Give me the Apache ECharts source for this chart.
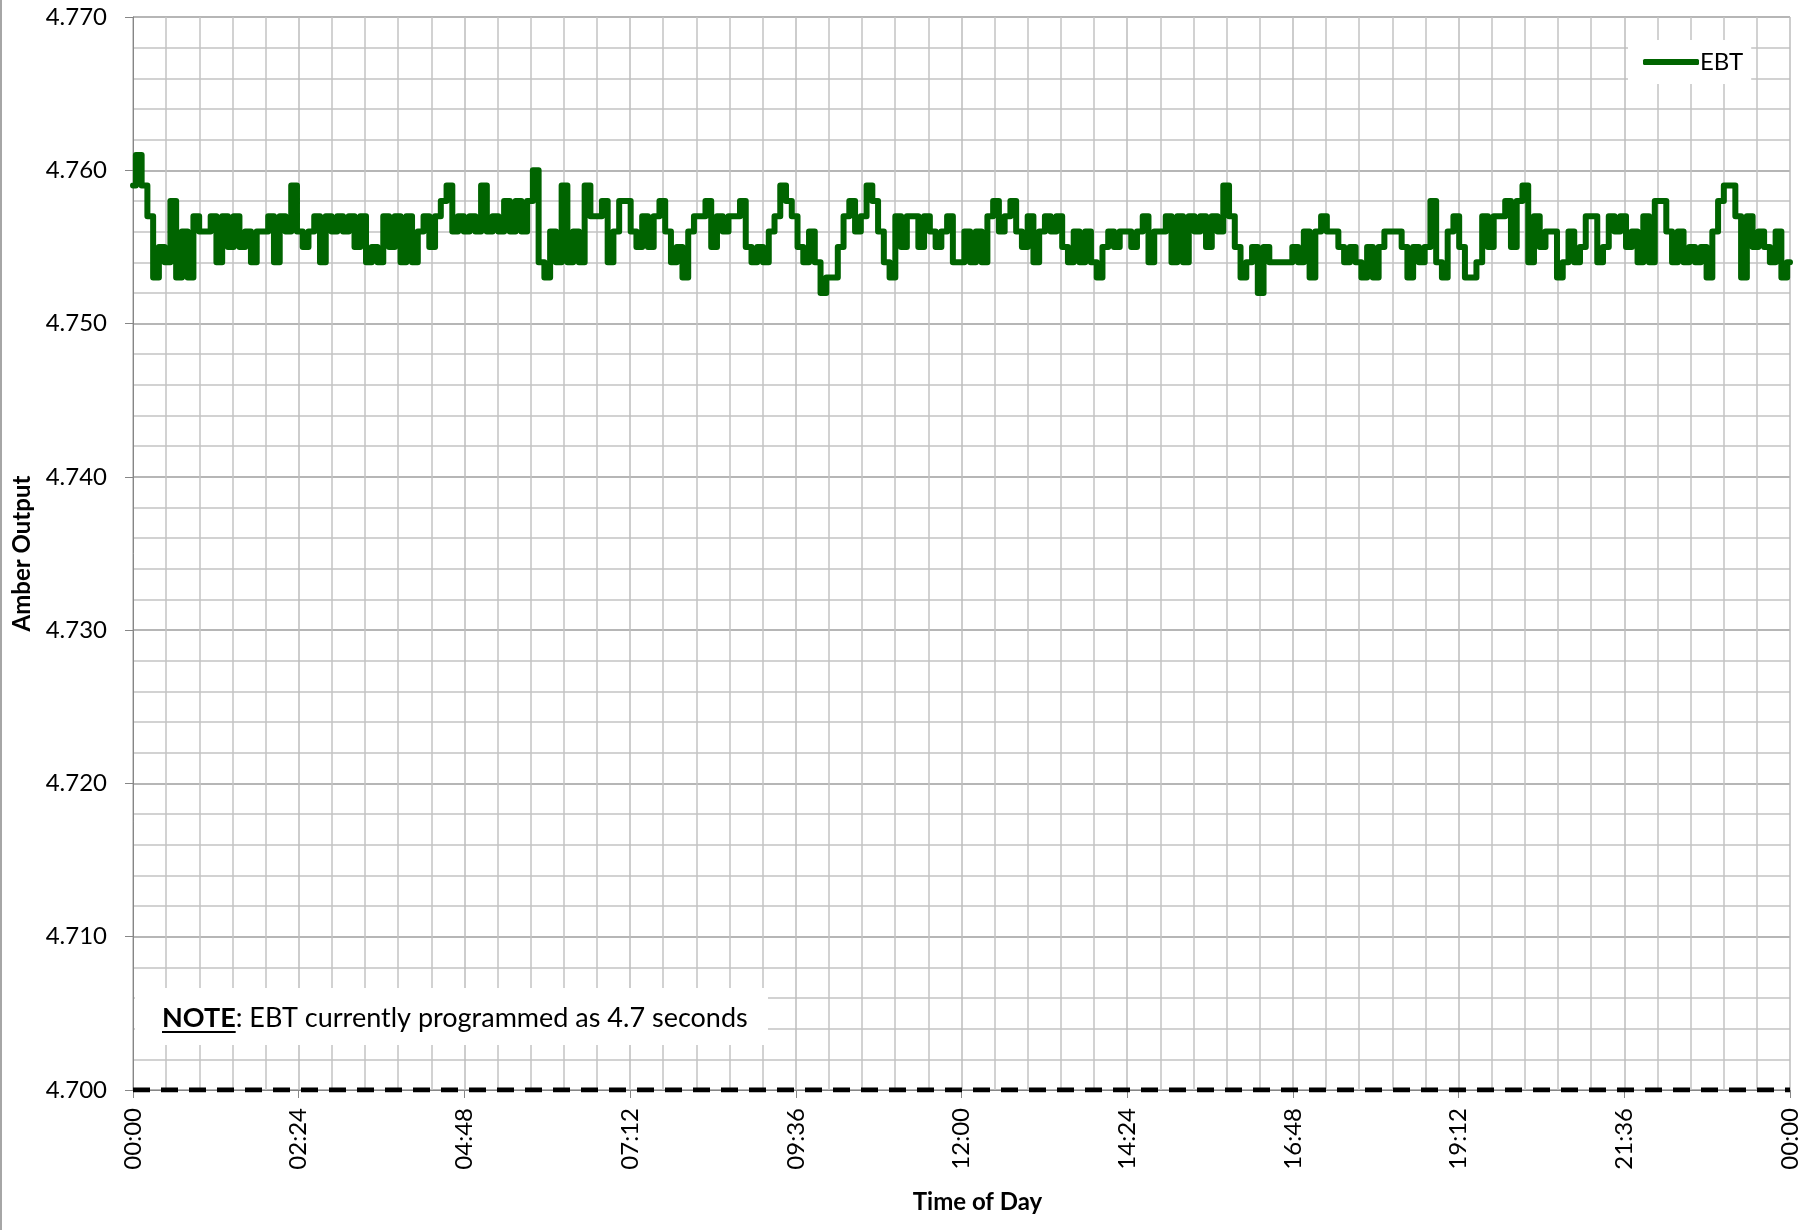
<!DOCTYPE html>
<html>
<head>
<meta charset="utf-8">
<title>EBT – Amber Output</title>
<script src="https://cdn.jsdelivr.net/npm/echarts@6/dist/echarts.min.js"></script>
<style>
  html, body { margin: 0; padding: 0; background: #ffffff; }
  #chart { width: 1820px; height: 1230px; }
</style>
</head>
<body>
<div id="chart"></div>
<script>
// Amber output log, one reading every 5 minutes from 00:00 to 00:00 the next day.
const SAMPLE_MINUTES = 5;
const ebtValues = [
  4.759,4.761,4.759,4.757,4.753,4.755,4.754,4.758,4.753,4.756,4.753,4.757, // 00h
  4.756,4.756,4.757,4.754,4.757,4.755,4.757,4.755,4.756,4.754,4.756,4.756, // 01h
  4.757,4.754,4.757,4.756,4.759,4.756,4.755,4.756,4.757,4.754,4.757,4.756, // 02h
  4.757,4.756,4.757,4.755,4.757,4.754,4.755,4.754,4.757,4.755,4.757,4.754, // 03h
  4.757,4.754,4.756,4.757,4.755,4.757,4.758,4.759,4.756,4.757,4.756,4.757, // 04h
  4.756,4.759,4.756,4.757,4.756,4.758,4.756,4.758,4.756,4.758,4.760,4.754, // 05h
  4.753,4.756,4.754,4.759,4.754,4.756,4.754,4.759,4.757,4.757,4.758,4.754, // 06h
  4.756,4.758,4.758,4.756,4.755,4.757,4.755,4.757,4.758,4.756,4.754,4.755, // 07h
  4.753,4.756,4.757,4.757,4.758,4.755,4.757,4.756,4.757,4.757,4.758,4.755, // 08h
  4.754,4.755,4.754,4.756,4.757,4.759,4.758,4.757,4.755,4.754,4.756,4.754, // 09h
  4.752,4.753,4.753,4.755,4.757,4.758,4.756,4.757,4.759,4.758,4.756,4.754, // 10h
  4.753,4.757,4.755,4.757,4.757,4.755,4.757,4.756,4.755,4.756,4.757,4.754, // 11h
  4.754,4.756,4.754,4.756,4.754,4.757,4.758,4.756,4.757,4.758,4.756,4.755, // 12h
  4.757,4.754,4.756,4.757,4.756,4.757,4.755,4.754,4.756,4.754,4.756,4.754, // 13h
  4.753,4.755,4.756,4.755,4.756,4.756,4.755,4.756,4.757,4.754,4.756,4.756, // 14h
  4.757,4.754,4.757,4.754,4.757,4.756,4.757,4.755,4.757,4.756,4.759,4.757, // 15h
  4.755,4.753,4.754,4.755,4.752,4.755,4.754,4.754,4.754,4.754,4.755,4.754, // 16h
  4.756,4.753,4.756,4.757,4.756,4.756,4.755,4.754,4.755,4.754,4.753,4.755, // 17h
  4.753,4.755,4.756,4.756,4.756,4.755,4.753,4.755,4.754,4.755,4.758,4.754, // 18h
  4.753,4.756,4.757,4.755,4.753,4.753,4.754,4.757,4.755,4.757,4.757,4.758, // 19h
  4.755,4.758,4.759,4.754,4.757,4.755,4.756,4.756,4.753,4.754,4.756,4.754, // 20h
  4.755,4.757,4.757,4.754,4.755,4.757,4.756,4.757,4.755,4.756,4.754,4.757, // 21h
  4.754,4.758,4.758,4.756,4.754,4.756,4.754,4.755,4.754,4.755,4.753,4.756, // 22h
  4.758,4.759,4.759,4.757,4.753,4.757,4.755,4.756,4.755,4.754,4.756,4.753, // 23h
  4.754                                                                    // 24h
];

// Programmed EBT setting (seconds), drawn as the dashed reference line.
const programmedEbt = 4.7;
const dayStartMinute = 0;
const dayEndMinute = 1440;

// Axis ticks.
const xTickStepMinutes = 144;
const xTickLabels = ['00:00','02:24','04:48','07:12','09:36','12:00','14:24','16:48','19:12','21:36','00:00'];
const yMin = 4.70, yMax = 4.77, yStep = 0.01;

const FONT = 'Lato';
const GREEN = '#006400';

const ebtSeriesData = ebtValues.map((v, i) => [i * SAMPLE_MINUTES, v]);
const programmedData = [[dayStartMinute, programmedEbt], [dayEndMinute, programmedEbt]];

// width of the bold "NOTE" word, for its underline
const NOTE_SIZE = 27;
const noteFont = NOTE_SIZE + 'px ' + FONT;
const measureCtx = document.createElement('canvas').getContext('2d');
measureCtx.font = 'bold ' + noteFont;
const noteWordWidth = measureCtx.measureText('NOTE').width;

const chart = echarts.init(document.getElementById('chart'), null, { renderer: 'canvas' });

chart.setOption({
  backgroundColor: '#ffffff',
  animation: false,
  grid: { left: 133, right: 30, top: 17, bottom: 140, outerBoundsMode: 'none', containLabel: false },
  legend: {
    data: ['EBT'],
    left: 1628,
    top: 40,
    backgroundColor: '#ffffff',
    padding: [10, 8, 10, 15],
    itemWidth: 56,
    itemHeight: 6,
    icon: 'roundRect',
    itemStyle: { color: GREEN },
    textStyle: { fontFamily: FONT, fontSize: 24, color: '#000000', padding: [0, 0, 0, -4] }
  },
  xAxis: {
    type: 'value',
    min: dayStartMinute,
    max: dayEndMinute,
    interval: xTickStepMinutes,
    name: 'Time of Day',
    nameLocation: 'middle',
    nameGap: 100,
    nameTextStyle: { fontFamily: FONT, fontSize: 24, fontWeight: 'bold', color: '#000000', padding: [0, 0, 0, 32] },
    axisLine: { show: true, lineStyle: { color: '#868686', width: 1 } },
    axisTick: { show: true, length: 8, lineStyle: { color: '#868686', width: 1 } },
    minorTick: { show: false, splitNumber: 5 },
    axisLabel: {
      rotate: 90,
      margin: 18,
      fontFamily: FONT,
      fontSize: 24,
      color: '#000000',
      formatter: v => xTickLabels[Math.round(v / xTickStepMinutes)]
    },
    splitLine: { show: true, lineStyle: { color: '#bcbcbc', width: 1.5 } },
    minorSplitLine: { show: true, lineStyle: { color: '#c4c4c4', width: 1.5 } }
  },
  yAxis: {
    type: 'value',
    min: yMin,
    max: yMax,
    interval: yStep,
    name: 'Amber Output',
    nameLocation: 'middle',
    nameGap: 97,
    nameTextStyle: { fontFamily: FONT, fontSize: 24, fontWeight: 'bold', color: '#000000' },
    axisLine: { show: true, lineStyle: { color: '#868686', width: 1 } },
    axisTick: { show: true, length: 8, lineStyle: { color: '#868686', width: 1 } },
    minorTick: { show: false, splitNumber: 5 },
    axisLabel: {
      margin: 26,
      fontFamily: FONT,
      fontSize: 24,
      color: '#000000',
      formatter: v => v.toFixed(3)
    },
    splitLine: { show: true, lineStyle: { color: '#9e9e9e', width: 1.5 } },
    minorSplitLine: { show: true, lineStyle: { color: '#c4c4c4', width: 1.5 } }
  },
  series: [
    {
      name: 'Programmed EBT',
      type: 'line',
      data: programmedData,
      symbol: 'none',
      silent: true,
      z: 3,
      lineStyle: { color: '#000000', width: 5, type: [17, 11] }
    },
    {
      name: 'EBT',
      type: 'line',
      data: ebtSeriesData,
      symbol: 'none',
      step: 'middle',
      z: 4,
      lineStyle: { color: GREEN, width: 6, cap: 'round', join: 'round' },
      itemStyle: { color: GREEN }
    }
  ],
  graphic: [
    // chart frame edge on the left
    { type: 'line', z: 100, silent: true, shape: { x1: 1, y1: 0, x2: 1, y2: 1230 }, style: { stroke: '#a6a6a6', lineWidth: 2 } },
    {
      type: 'group', left: 135, top: 988, z: 100, silent: true,
      children: [
        { type: 'rect', z: 100, shape: { x: 0, y: 0, width: 633, height: 57 }, style: { fill: '#ffffff' } },
        {
          type: 'text', z: 101, x: 27, y: 30,
          style: {
            text: '{b|NOTE}: EBT currently programmed as 4.7 seconds',
            font: noteFont,
            fill: '#000000',
            verticalAlign: 'middle',
            rich: { b: { fontFamily: FONT, fontSize: NOTE_SIZE, fontWeight: 'bold', color: '#000000' } }
          }
        },
        { type: 'line', z: 101, shape: { x1: 27, y1: 44, x2: 27 + noteWordWidth, y2: 44 }, style: { stroke: '#000000', lineWidth: 2 } }
      ]
    }
  ]
});
</script>
</body>
</html>
